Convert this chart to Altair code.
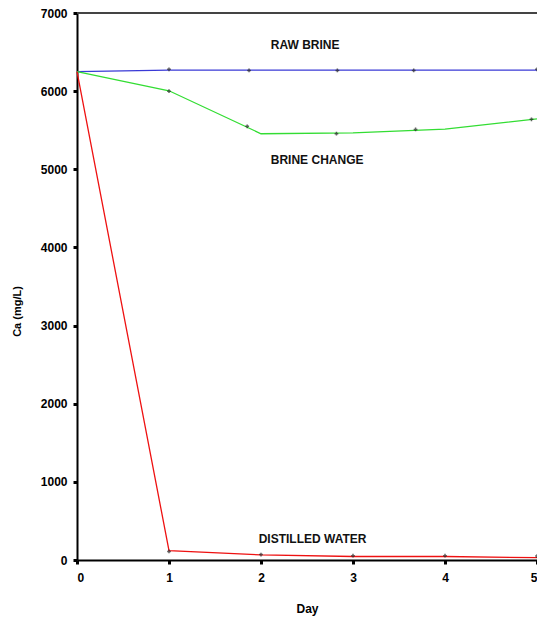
import altair as alt
import pandas as pd

# line vertices
days = [0, 1, 2, 3, 4, 5]
raw_brine = [6250, 6270, 6270, 6270, 6270, 6270]
brine_change = [6250, 6005, 5455, 5465, 5515, 5645]
distilled = [6250, 120, 65, 45, 45, 30]

# marker positions
raw_marker_days = [1, 1.87, 2.83, 3.66, 5]
raw_marker_vals = [6280, 6265, 6265, 6265, 6280]
brine_marker_days = [1, 1.85, 2.82, 3.68, 4.94]
brine_marker_vals = [6000, 5550, 5455, 5510, 5640]
dist_marker_days = [1, 2, 3, 4, 5]
dist_marker_vals = [110, 70, 55, 55, 50]

series_names = ["RAW BRINE", "BRINE CHANGE", "DISTILLED WATER"]
series_colors = ["#3a3ad6", "#33dd33", "#ee1111"]

label_days = [2.48, 2.61, 2.56]
label_vals = [6590, 5115, 267]

lines = pd.DataFrame({
    "day": days * 3,
    "ca": raw_brine + brine_change + distilled,
    "series": [series_names[0]] * 6 + [series_names[1]] * 6 + [series_names[2]] * 6,
})
markers = pd.DataFrame({
    "day": raw_marker_days + brine_marker_days + dist_marker_days,
    "ca": raw_marker_vals + brine_marker_vals + dist_marker_vals,
})
labels = pd.DataFrame({"day": label_days, "ca": label_vals, "text": series_names})
top = pd.DataFrame({"ca": [7000]})

FONT = "Liberation Sans"

x = alt.X("day:Q", title="Day",
          scale=alt.Scale(domain=[0, 5], nice=False, zero=False),
          axis=alt.Axis(values=days, format="d", grid=False, domainColor="black",
                        domainWidth=2, tickColor="black", tickWidth=3, tickSize=4,
                        labelFont=FONT, labelFontSize=12, labelFontWeight="bold",
                        labelColor="black", labelPadding=8,
                        titleFont=FONT, titleFontSize=12, titleFontWeight="bold",
                        titleColor="black", titlePadding=20))
y = alt.Y("ca:Q", title="Ca (mg/L)",
          scale=alt.Scale(domain=[0, 7000], nice=False),
          axis=alt.Axis(values=[0, 1000, 2000, 3000, 4000, 5000, 6000, 7000],
                        format="d", grid=False, domainColor="black", domainWidth=2,
                        tickColor="black", tickWidth=3, tickSize=4,
                        labelFont=FONT, labelFontSize=12, labelFontWeight="bold",
                        labelColor="black", labelPadding=6,
                        titleFont=FONT, titleFontSize=11, titleFontWeight="bold",
                        titleColor="black", titlePadding=18, titleY=298))

line_layer = alt.Chart(lines).mark_line(strokeWidth=1.3).encode(
    x=x, y=y,
    color=alt.Color("series:N", scale=alt.Scale(domain=series_names, range=series_colors),
                    legend=None),
    detail="series:N",
)
marker_layer = alt.Chart(markers).mark_point(shape="cross", filled=True, size=14,
                                             color="#222222").encode(x="day:Q", y="ca:Q")
text_layer = alt.Chart(labels).mark_text(font=FONT, fontSize=12, fontWeight="bold",
                                         color="#111111").encode(
    x="day:Q", y="ca:Q", text="text:N")
top_rule = alt.Chart(top).mark_rule(color="#444444", strokeWidth=2).encode(y="ca:Q")

chart = alt.layer(top_rule, line_layer, marker_layer, text_layer).properties(
    width=460, height=547,
    padding={"left": 69, "top": 5, "right": 0, "bottom": 60},
    autosize=alt.AutoSizeParams(type="none"),
).configure_view(stroke=None).configure(background="white")

chart.save("out.html", embed_options={"renderer": "svg", "actions": False})
